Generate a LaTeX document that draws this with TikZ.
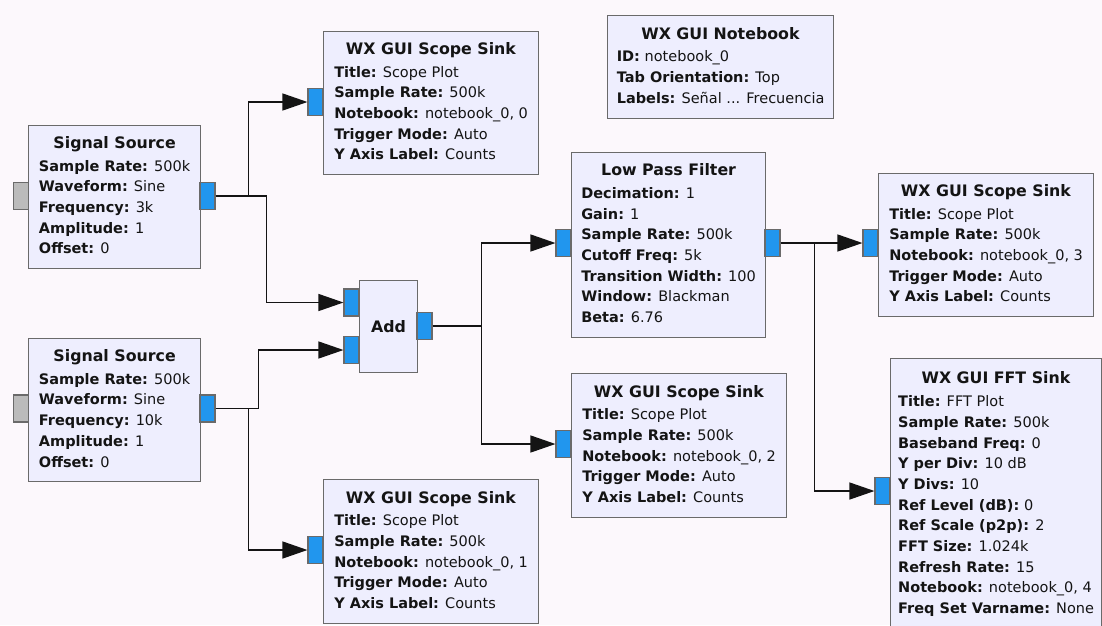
\documentclass[tikz,border=0pt]{standalone}
\usepackage{fontspec}
\setmainfont{DejaVu Sans}
\usepackage{array}
\usetikzlibrary{positioning,arrows.meta,calc}
\definecolor{canvas}  {HTML}{FCF8FC}
\definecolor{blockbg} {HTML}{EEEEFE}
\definecolor{edge}    {HTML}{6A6A6A}
\definecolor{portblue}{HTML}{2196EE}
\definecolor{portgray}{HTML}{BBBBBB}
\definecolor{ink}     {HTML}{141414}
\newcommand{\prm}[2]{\textbf{#1:} #2}
\newcommand{\blk}[2]{\begin{tabular}{@{}l@{}}\multicolumn{1}{@{}c@{}}{\fontsize{15.8}{20.7}\selectfont\textbf{#1}}\\[2pt]#2\end{tabular}}
\tikzset{
  >=Stealth,
  every node/.style={font=\fontsize{14.5}{20.7}\selectfont, text=ink},
  % --- nodes
  blkbox/.style = {rectangle, draw=edge, fill=blockbg, line width=1.2pt,
                   anchor=north west, inner sep=0pt},
  port/.style   = {rectangle, draw=edge, fill=portblue, line width=1.1pt,
                   minimum width=15pt, minimum height=27pt, inner sep=0pt},
  gport/.style  = {port, fill=portgray},
  % --- edges
  wire/.style   = {draw=ink, line width=1.3pt,
                   -{Triangle[length=25pt,width=17pt]}},
}
\begin{document}
\begin{tikzpicture}[x=1pt,y=-1pt]
  \fill[canvas] (0,0) rectangle (1102,625);
  \useasboundingbox (0,0) rectangle (1102,625);
  \clip (0,0) rectangle (1102,625);

  % blocks
  \node[blkbox, minimum width=172pt, minimum height=143pt] (src1) at (28,125)
    {\blk{Signal Source}{\prm{Sample Rate}{500k}\\\prm{Waveform}{Sine}\\\prm{Frequency}{3k}\\\prm{Amplitude}{1}\\\prm{Offset}{0}}};
  \node[blkbox, minimum width=172pt, minimum height=143pt] (src2) at (28,338)
    {\blk{Signal Source}{\prm{Sample Rate}{500k}\\\prm{Waveform}{Sine}\\\prm{Frequency}{10k}\\\prm{Amplitude}{1}\\\prm{Offset}{0}}};
  \node[blkbox, minimum width=58pt, minimum height=92pt, font=\fontsize{15.8}{20.7}\selectfont] (add) at (359,280)
    {\textbf{Add}};
  \node[blkbox, minimum width=215pt, minimum height=143pt] (scope1) at (323,31)
    {\blk{WX GUI Scope Sink}{\prm{Title}{Scope Plot}\\\prm{Sample Rate}{500k}\\\prm{Notebook}{notebook\_0, 0}\\\prm{Trigger Mode}{Auto}\\\prm{Y Axis Label}{Counts}}};
  \node[blkbox, minimum width=215pt, minimum height=144pt] (scope2) at (323,479)
    {\blk{WX GUI Scope Sink}{\prm{Title}{Scope Plot}\\\prm{Sample Rate}{500k}\\\prm{Notebook}{notebook\_0, 1}\\\prm{Trigger Mode}{Auto}\\\prm{Y Axis Label}{Counts}}};
  \node[blkbox, minimum width=215pt, minimum height=144pt] (scope3) at (571,373)
    {\blk{WX GUI Scope Sink}{\prm{Title}{Scope Plot}\\\prm{Sample Rate}{500k}\\\prm{Notebook}{notebook\_0, 2}\\\prm{Trigger Mode}{Auto}\\\prm{Y Axis Label}{Counts}}};
  \node[blkbox, minimum width=215pt, minimum height=143pt] (scope4) at (878,173)
    {\blk{WX GUI Scope Sink}{\prm{Title}{Scope Plot}\\\prm{Sample Rate}{500k}\\\prm{Notebook}{notebook\_0, 3}\\\prm{Trigger Mode}{Auto}\\\prm{Y Axis Label}{Counts}}};
  \node[blkbox, minimum width=194pt, minimum height=185pt] (lpf) at (571,152)
    {\blk{Low Pass Filter}{\prm{Decimation}{1}\\\prm{Gain}{1}\\\prm{Sample Rate}{500k}\\\prm{Cutoff Freq}{5k}\\\prm{Transition Width}{100}\\\prm{Window}{Blackman}\\\prm{Beta}{6.76}}};
  \node[blkbox, minimum width=226pt, minimum height=103pt] (nbook) at (607,15)
    {\blk{WX GUI Notebook}{\prm{ID}{notebook\_0}\\\prm{Tab Orientation}{Top}\\\prm{Labels}{Señal ... Frecuencia}}};
  \node[blkbox, minimum width=211pt, minimum height=272pt] (fft) at (890,358)
    {\blk{WX GUI FFT Sink}{\prm{Title}{FFT Plot}\\\prm{Sample Rate}{500k}\\\prm{Baseband Freq}{0}\\\prm{Y per Div}{10 dB}\\\prm{Y Divs}{10}\\\prm{Ref Level (dB)}{0}\\\prm{Ref Scale (p2p)}{2}\\\prm{FFT Size}{1.024k}\\\prm{Refresh Rate}{15}\\\prm{Notebook}{notebook\_0, 4}\\\prm{Freq Set Varname}{None}}};

  % ports
  \node[gport] (src1msg) at (21,196) {};
  \node[port]  (src1out) at (207.5,196) {};
  \node[gport] (src2msg) at (21,408.5) {};
  \node[port]  (src2out) at (207.5,408.5) {};
  \node[port]  (addin1)  at (351.5,302.5) {};
  \node[port]  (addin2)  at (351.5,350) {};
  \node[port]  (addout)  at (424.5,326) {};
  \node[port]  (sc1in)   at (315.5,102) {};
  \node[port]  (sc2in)   at (315.5,550) {};
  \node[port]  (sc3in)   at (563.5,444) {};
  \node[port]  (sc4in)   at (870.5,243) {};
  \node[port]  (lpfin)   at (563.5,243) {};
  \node[port]  (lpfout)  at (772.5,243) {};
  \node[port]  (fftin)   at (882.5,491) {};

  % connections
  \draw[wire] (src1out.east) -- ++(33,0) |- (sc1in);
  \draw[wire] (src1out.east) -- ++(51,0) |- (addin1);
  \draw[wire] (src2out.east) -- ++(43,0) |- (addin2);
  \draw[wire] (src2out.east) -- ++(33,0) |- (sc2in);
  \draw[wire] (addout.east) -- ++(49,0) |- (lpfin);
  \draw[wire] (addout.east) -- ++(49,0) |- (sc3in);
  \draw[wire] (lpfout) -- (sc4in);
  \draw[wire] (lpfout.east) -- ++(34,0) |- (fftin);
\end{tikzpicture}
\end{document}
